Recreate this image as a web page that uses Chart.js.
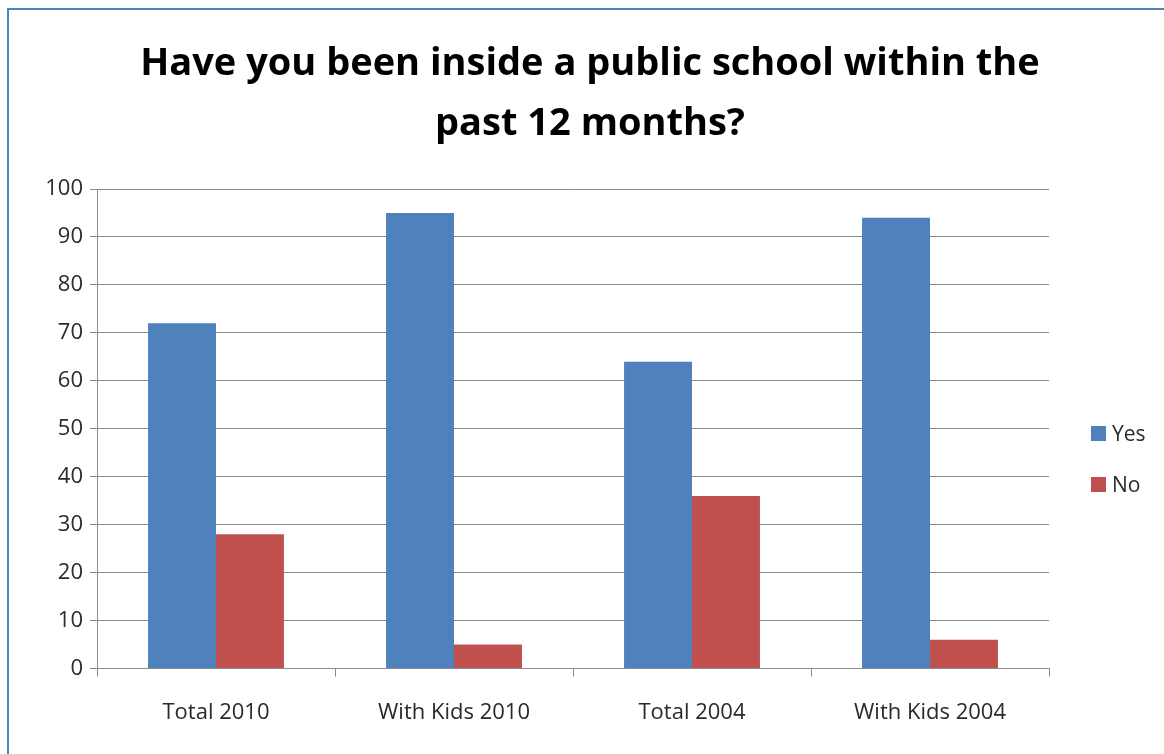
<!DOCTYPE html>
<html>
<head>
<meta charset="utf-8">
<script src="https://cdn.jsdelivr.net/npm/chart.js@4.4.0/dist/chart.umd.min.js"></script>
<style>
  html, body { margin: 0; padding: 0; background: #fff; overflow: hidden; }
  #wrap { position: relative; width: 1164px; height: 754px; }
  #frame { position: absolute; left: 7px; top: 8px; width: 1200px; height: 800px;
           border: 2px solid #4F81BD; box-sizing: border-box; }
  #chart { position: absolute; left: 0; top: 0; }
  #title { position: absolute; left: 0; top: 30px; width: 1180px; text-align: center;
           font-family: "Open Sans", sans-serif; font-weight: bold; font-size: 38px;
           line-height: 60px; color: #000; }
  .leg { position: absolute; left: 1091px; height: 26px; display: flex; align-items: center;
         font-family: "Open Sans", sans-serif; font-size: 21px; color: #2a2a2a; }
  .leg span { display: inline-block; width: 15px; height: 15px; margin-right: 6px; }
</style>
</head>
<body>
<div id="wrap">
  <div id="frame"></div>
  <canvas id="chart" width="1164" height="754"></canvas>
  <div id="title">Have you been inside a public school within the<br>past 12 months?</div>
  <div class="leg" style="top:420px"><span style="background:#4F81BD"></span>Yes</div>
  <div class="leg" style="top:471px"><span style="background:#C0504D"></span>No</div>
</div>
<script>
// ===========================
// Data
// ===========================

const categories = ['Total 2010', 'With Kids 2010', 'Total 2004', 'With Kids 2004'];
const yesValues = [72, 95, 64, 94];
const noValues = [28, 5, 36, 6];
const yTicks = [0, 10, 20, 30, 40, 50, 60, 70, 80, 90, 100];

const gridColor = '#8c8c8c';
const tickFont = { family: 'Open Sans', size: 22 };

// ===========================
// Chart
// ===========================

new Chart(document.getElementById('chart'), {
    type: 'bar',
    data: {
        labels: categories,
        datasets: [
            {
                label: 'Yes',
                data: yesValues,
                backgroundColor: '#4F81BD',
                categoryPercentage: 0.571,
                barPercentage: 1.0
            },
            {
                label: 'No',
                data: noValues,
                backgroundColor: '#C0504D',
                categoryPercentage: 0.571,
                barPercentage: 1.0
            }
        ]
    },
    options: {
        responsive: false,
        animation: false,
        layout: {
            padding: { left: 0, right: 115, top: 189, bottom: 5 }
        },
        plugins: {
            legend: { display: false },
            tooltip: { enabled: false },
            title: { display: false }
        },
        scales: {
            x: {
                grid: {
                    offset: true,
                    drawOnChartArea: false,
                    drawTicks: true,
                    tickLength: 8,
                    color: gridColor
                },
                border: { color: gridColor },
                ticks: {
                    color: '#2a2a2a',
                    font: tickFont,
                    padding: 23,
                    maxRotation: 0
                }
            },
            y: {
                min: 0,
                max: 100,
                afterFit: function(scale) {
                    scale.width = 97;
                },
                afterBuildTicks: function(scale) {
                    scale.ticks = yTicks.map(v => ({ value: v }));
                },
                grid: {
                    color: gridColor,
                    tickLength: 7
                },
                border: { color: gridColor },
                ticks: {
                    color: '#2a2a2a',
                    font: tickFont,
                    padding: 7
                }
            }
        }
    }
});
</script>
</body>
</html>
